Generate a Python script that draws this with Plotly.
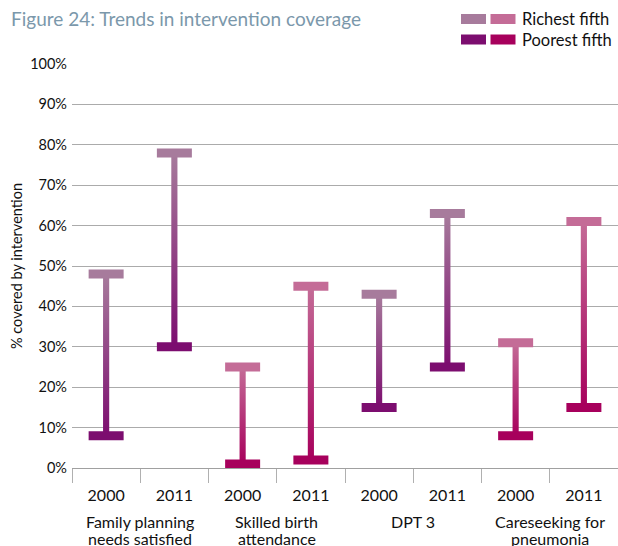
import plotly.graph_objects as go

# ---- data ----
groups = [["Family planning", "needs satisfied"], ["Skilled birth", "attendance"], ["DPT 3"], ["Careseeking for", "pneumonia"]]
years = ["2000", "2011", "2000", "2011", "2000", "2011", "2000", "2011"]
richest = [48, 78, 25, 45, 43, 63, 31, 61]
poorest = [8, 30, 1, 2, 15, 25, 8, 15]
y_ticks = [0, 10, 20, 30, 40, 50, 60, 70, 80, 90, 100]
y_ticktext = [f"{v}%" for v in y_ticks]

# ---- styles ----
rich_cols = ["#A77B9C", "#C46C97"]
poor_cols = ["#7C0D6F", "#A7005C"]
FONT = "Lato, 'Open Sans', sans-serif"
STEM_HALF = 0.045

fig = go.Figure()

xs = list(range(len(years)))
for i, (lo, hi) in enumerate(zip(poorest, richest)):
    k = (i // 2) % 2
    fig.add_trace(go.Scatter(
        x=[i - STEM_HALF, i + STEM_HALF, i + STEM_HALF, i - STEM_HALF, i - STEM_HALF],
        y=[lo, lo, hi, hi, lo],
        mode="lines", line=dict(width=0), fill="toself",
        fillgradient=dict(type="vertical", colorscale=[[0, poor_cols[k]], [1, rich_cols[k]]]),
        hoverinfo="skip", showlegend=False,
    ))

colk = [(i // 2) % 2 for i in xs]
fig.add_trace(go.Scatter(
    x=xs, y=richest, mode="markers", showlegend=False,
    marker=dict(symbol="line-ew", size=25, line=dict(width=9, color=[rich_cols[k] for k in colk])),
))
fig.add_trace(go.Scatter(
    x=xs, y=poorest, mode="markers", showlegend=False,
    marker=dict(symbol="line-ew", size=25, line=dict(width=9, color=[poor_cols[k] for k in colk])),
))

fig.update_layout(
    width=618, height=546,
    margin=dict(l=72, r=0, t=64, b=78, autoexpand=False),
    paper_bgcolor="white", plot_bgcolor="white",
    font=dict(family=FONT, color="#111111", size=14),
    xaxis=dict(
        range=[-0.5, len(years) - 0.5], tickmode="array", tickvals=xs, ticktext=years,
        ticks="", showgrid=False, zeroline=False, showline=True, linecolor="#A0A0A0", linewidth=1,
        tickfont=dict(size=16), ticklabelstandoff=13, automargin=False,
        minor=dict(tickmode="array", tickvals=[i - 0.5 for i in range(len(years) + 1)],
                   ticks="outside", ticklen=14, tickcolor="#B0B0B0", tickwidth=1, showgrid=False),
    ),
    yaxis=dict(
        range=[0, 100], tickmode="array", tickvals=y_ticks, ticktext=y_ticktext,
        showgrid=True, gridcolor="#ABABAB", gridwidth=1.3, zeroline=False, showline=False,
        ticks="", tickfont=dict(size=14.5), ticklabelstandoff=4, automargin=False,
        title=dict(text="% covered by intervention", font=dict(size=14.5), standoff=4),
    ),
)

W, H = 546.0, 404.0
def px(xp):
    return (xp - 72) / W
def py(yp):
    return (468 - yp) / H

# group labels (one annotation per line for tight line spacing)
for g, lines in enumerate(groups):
    for li, txt in enumerate(lines):
        fig.add_annotation(x=2 * g + 0.5, xref="x", y=py(521 + 17 * li), yref="paper", yanchor="middle",
                           text=txt, showarrow=False, font=dict(size=16))

# title
fig.add_annotation(x=px(9), y=py(19), xref="paper", yref="paper", xanchor="left", yanchor="middle",
                   text="Figure 24: Trends in intervention coverage", showarrow=False,
                   font=dict(size=19, color="#7B98AB"))

# legend (drawn)
rows = [("Richest fifth", rich_cols, 19), ("Poorest fifth", poor_cols, 39.5)]
for label, cols, yc in rows:
    for j, c in enumerate(cols):
        x0 = 461 + j * 29.5
        fig.add_shape(type="rect", xref="paper", yref="paper",
                      x0=px(x0), x1=px(x0 + 25), y0=py(yc + 5), y1=py(yc - 5),
                      fillcolor=c, line=dict(width=0))
    fig.add_annotation(x=px(520), y=py(yc), xref="paper", yref="paper", xanchor="left", yanchor="middle",
                       text=label, showarrow=False, font=dict(size=16.5))

fig.write_html("out.html", config={"displayModeBar": False},
               post_script="document.body.style.margin='0px';document.body.style.padding='0px';")
